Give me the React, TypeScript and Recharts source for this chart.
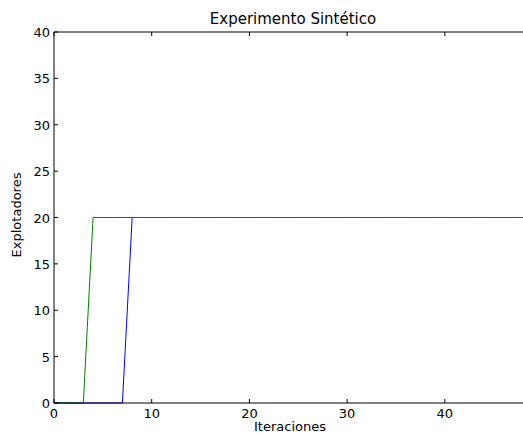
import { LineChart, Line, XAxis, YAxis, Label } from "recharts";

const iterations = [
  0, 1, 2, 3, 4, 5, 6, 7, 8, 9, 10, 11, 12, 13, 14, 15, 16, 17, 18, 19, 20, 21, 22, 23, 24,
  25, 26, 27, 28, 29, 30, 31, 32, 33, 34, 35, 36, 37, 38, 39, 40, 41, 42, 43, 44, 45, 46, 47, 48, 49,
];
const blueSeries = [
  0, 0, 0, 0, 0, 0, 0, 0, 20, 20, 20, 20, 20, 20, 20, 20, 20, 20, 20, 20, 20, 20, 20, 20, 20,
  20, 20, 20, 20, 20, 20, 20, 20, 20, 20, 20, 20, 20, 20, 20, 20, 20, 20, 20, 20, 20, 20, 20, 20, 20,
];
const greenSeries = [
  0, 0, 0, 0, 20, 20, 20, 20, 20, 20, 20, 20, 20, 20, 20, 20, 20, 20, 20, 20, 20, 20, 20, 20, 20,
  20, 20, 20, 20, 20, 20, 20, 20, 20, 20, 20, 20, 20, 20, 20, 20, 20, 20, 20, 20, 20, 20, 20, 20, 20,
];
const xTicks = [0, 10, 20, 30, 40];
const yTicks = [0, 5, 10, 15, 20, 25, 30, 35, 40];

const data = iterations.map((it, i) => ({
  it,
  azul: blueSeries[i],
  verde: greenSeries[i],
}));

const FONT = "DejaVu Sans, sans-serif";

const BottomTick = (props: any) => {
  const { x, y, payload } = props;
  return (
    <g>
      <line x1={x} y1={y} x2={x} y2={y - 4} stroke="#000" />
      <text x={x} y={y + 15} textAnchor="middle" fontFamily={FONT} fontSize={13} fill="#000">
        {payload.value}
      </text>
    </g>
  );
};

const TopTick = (props: any) => {
  const { x, y } = props;
  return <line x1={x} y1={y} x2={x} y2={y + 4} stroke="#000" />;
};

const LeftTick = (props: any) => {
  const { x, y, payload } = props;
  return (
    <g>
      <line x1={x} y1={y} x2={x + 4} y2={y} stroke="#000" />
      <text x={x - 4} y={y + 5} textAnchor="end" fontFamily={FONT} fontSize={13} fill="#000">
        {payload.value}
      </text>
    </g>
  );
};

// axis titles drawn as plain text so the colour stays black
const TitleLabel = () => (
  <text x={293} y={24} textAnchor="middle" fontFamily={FONT} fontSize={15} fill="#000">
    Experimento Sintético
  </text>
);

const XTitle = () => (
  <text x={290} y={431} textAnchor="middle" fontFamily={FONT} fontSize={13} fill="#000">
    Iteraciones
  </text>
);

const YTitle = () => (
  <text
    x={21}
    y={215}
    textAnchor="middle"
    transform="rotate(-90 21 215)"
    fontFamily={FONT}
    fontSize={13}
    fill="#000"
  >
    Explotadores
  </text>
);

export default function App() {
  return (
    <div style={{ position: "absolute", left: 0, top: 0, width: 523, height: 435, overflow: "hidden", background: "#fff" }}>
      <LineChart width={523} height={435} data={data} margin={{ top: 0, right: 0, bottom: 0, left: 0 }}>
        <XAxis
          xAxisId="top"
          orientation="top"
          dataKey="it"
          type="number"
          domain={[0, 48]}
          allowDataOverflow
          ticks={xTicks}
          height={32}
          tickSize={0}
          tickMargin={0}
          tick={<TopTick />}
          axisLine={{ stroke: "#000" }}
        >
          <Label content={<TitleLabel />} />
        </XAxis>
        <XAxis
          dataKey="it"
          type="number"
          domain={[0, 48]}
          allowDataOverflow
          ticks={xTicks}
          height={32}
          tickSize={0}
          tickMargin={0}
          tick={<BottomTick />}
          axisLine={{ stroke: "#000" }}
        >
          <Label content={<XTitle />} />
        </XAxis>
        <YAxis
          type="number"
          domain={[0, 40]}
          ticks={yTicks}
          width={54}
          tickSize={0}
          tickMargin={0}
          tick={<LeftTick />}
          axisLine={{ stroke: "#000" }}
        >
          <Label content={<YTitle />} />
        </YAxis>
        <Line dataKey="azul" stroke="#0000ff" strokeWidth={1} dot={false} type="linear" isAnimationActive={false} />
        <Line dataKey="verde" stroke="#008000" strokeWidth={1} dot={false} type="linear" isAnimationActive={false} />
      </LineChart>
    </div>
  );
}
